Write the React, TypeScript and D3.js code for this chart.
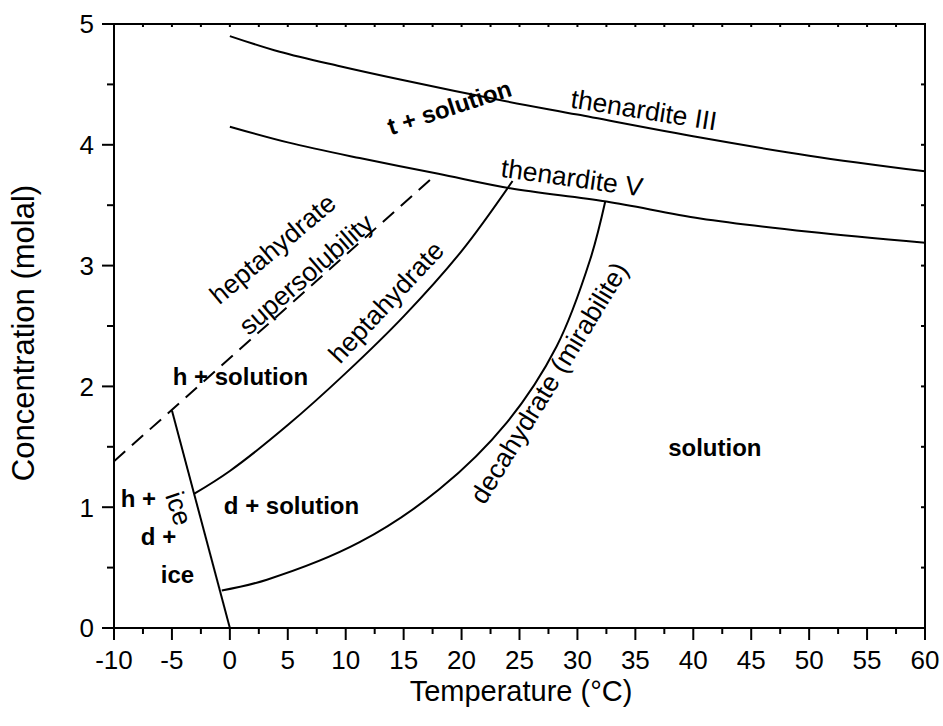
import React from "react";
import * as d3 from "d3";

// phase boundaries, temperature (°C) vs concentration (molal)
const thenarditeIIIT = [0, 4.3, 9.5, 14.7, 23.3, 30, 40.6, 50, 60];
const thenarditeIIIC = [4.9, 4.77, 4.65, 4.54, 4.37, 4.25, 4.06, 3.91, 3.78];

const thenarditeVT = [0, 5, 11.2, 18, 24.2, 32.5, 40.6, 50, 60];
const thenarditeVC = [4.15, 4.02, 3.89, 3.76, 3.64, 3.53, 3.39, 3.28, 3.19];

const heptaT = [-3.1, 0, 5, 10, 15, 20, 24.4];
const heptaC = [1.11, 1.3, 1.68, 2.11, 2.58, 3.12, 3.7];

const decaT = [-0.7, 3.2, 11.2, 18.1, 23.9, 28.2, 31.1, 32.4];
const decaC = [0.31, 0.4, 0.71, 1.15, 1.7, 2.33, 3.05, 3.53];

const iceT = [0, -5];
const iceC = [0, 1.8];

const superT = [-10, 17.4];
const superC = [1.38, 3.72];

const xTicks = [-10, -5, 0, 5, 10, 15, 20, 25, 30, 35, 40, 45, 50, 55, 60];
const yTicks = [0, 1, 2, 3, 4, 5];

// annotations: text, position in data units, rotation
const labelText = [
  "thenardite III",
  "thenardite V",
  "t + solution",
  "heptahydrate",
  "supersolubility",
  "heptahydrate",
  "decahydrate (mirabilite)",
  "h + solution",
  "solution",
  "d + solution",
  "h +",
  "d +",
  "ice",
  "ice",
];
const labelT = [35.74, 29.53, 18.95, 3.68, 6.57, 13.47, 27.54, 0.91, 41.86, 5.32, -7.89, -6.16, -4.52, -4.39];
const labelC = [4.29, 3.73, 4.31, 3.14, 2.93, 2.7, 2.03, 2.08, 1.49, 1.01, 1.07, 0.76, 0.44, 0.99];
const labelAngle = [9, 8, -18, -40, -41, -47, -58.5, 0, 0, 0, 0, 0, 0, 72];
const labelBold = [false, false, true, false, false, false, false, true, true, true, true, true, true, false];

const font = "'Liberation Sans', Arial, sans-serif";

const left = 114;
const right = 925;
const top = 24;
const bottom = 628;

const zip = (t: number[], c: number[]) => t.map((v, i) => [v, c[i]] as [number, number]);

export default function App() {
  const x = d3.scaleLinear().domain([-10, 60]).range([left, right]);
  const y = d3.scaleLinear().domain([0, 5]).range([bottom, top]);

  const smooth = d3
    .line<[number, number]>()
    .x(d => x(d[0]))
    .y(d => y(d[1]))
    .curve(d3.curveCatmullRom.alpha(0.5));
  const straight = d3
    .line<[number, number]>()
    .x(d => x(d[0]))
    .y(d => y(d[1]));

  const minorX = d3.range(-10, 60.01, 2.5);
  const minorY = d3.range(0, 5.01, 0.5);

  return (
    <svg
      width={943}
      height={726}
      style={{ position: "absolute", left: 0, top: 0, background: "#fff" }}
      fontFamily={font}
    >
      <defs>
        <clipPath id="plot">
          <rect x={left} y={top} width={right - left} height={bottom - top} />
        </clipPath>
      </defs>

      {/* curves */}
      <g fill="none" stroke="#000" strokeWidth={2} clipPath="url(#plot)">
        <path d={smooth(zip(thenarditeIIIT, thenarditeIIIC)) || ""} />
        <path d={smooth(zip(thenarditeVT, thenarditeVC)) || ""} />
        <path d={smooth(zip(heptaT, heptaC)) || ""} />
        <path d={smooth(zip(decaT, decaC)) || ""} />
        <path d={straight(zip(iceT, iceC)) || ""} />
        <path d={straight(zip(superT, superC)) || ""} strokeDasharray="15 9" />
      </g>

      {/* labels */}
      <g fill="#000">
        {labelText.map((t, i) => (
          <text
            key={i}
            transform={`translate(${x(labelT[i])},${y(labelC[i])}) rotate(${labelAngle[i]})`}
            textAnchor="middle"
            dy="0.35em"
            fontSize={labelBold[i] ? 24 : 26.5}
            fontWeight={labelBold[i] ? "bold" : "normal"}
          >
            {t}
          </text>
        ))}
      </g>

      {/* frame */}
      <rect
        x={left}
        y={top}
        width={right - left}
        height={bottom - top}
        fill="none"
        stroke="#000"
        strokeWidth={2}
      />

      {/* ticks */}
      <g stroke="#000" strokeWidth={2}>
        {minorX.map((v, i) => {
          const major = Math.abs(v % 5) < 1e-6;
          return (
            <g key={"x" + i}>
              <line x1={x(v)} x2={x(v)} y1={bottom} y2={bottom + (major ? 12 : 6)} />
              <line x1={x(v)} x2={x(v)} y1={top} y2={top + 3} />
            </g>
          );
        })}
        {minorY.map((v, i) => {
          const major = Math.abs(v % 1) < 1e-6;
          return (
            <g key={"y" + i}>
              <line x1={left - (major ? 12 : 7)} x2={left} y1={y(v)} y2={y(v)} />
              <line x1={right - 4} x2={right} y1={y(v)} y2={y(v)} />
            </g>
          );
        })}
      </g>

      {/* tick labels */}
      <g fontSize={26} fill="#000">
        {xTicks.map(v => (
          <text key={v} x={x(v)} y={669} textAnchor="middle">
            {v}
          </text>
        ))}
        {yTicks.map(v => (
          <text key={v} x={94} y={y(v)} dy="0.36em" textAnchor="end">
            {v}
          </text>
        ))}
      </g>

      {/* axis titles */}
      <text x={521} y={701} textAnchor="middle" fontSize={29}>
        Temperature (°C)
      </text>
      <text
        transform={`translate(34,333) rotate(-90)`}
        textAnchor="middle"
        fontSize={31}
      >
        Concentration (molal)
      </text>
    </svg>
  );
}
